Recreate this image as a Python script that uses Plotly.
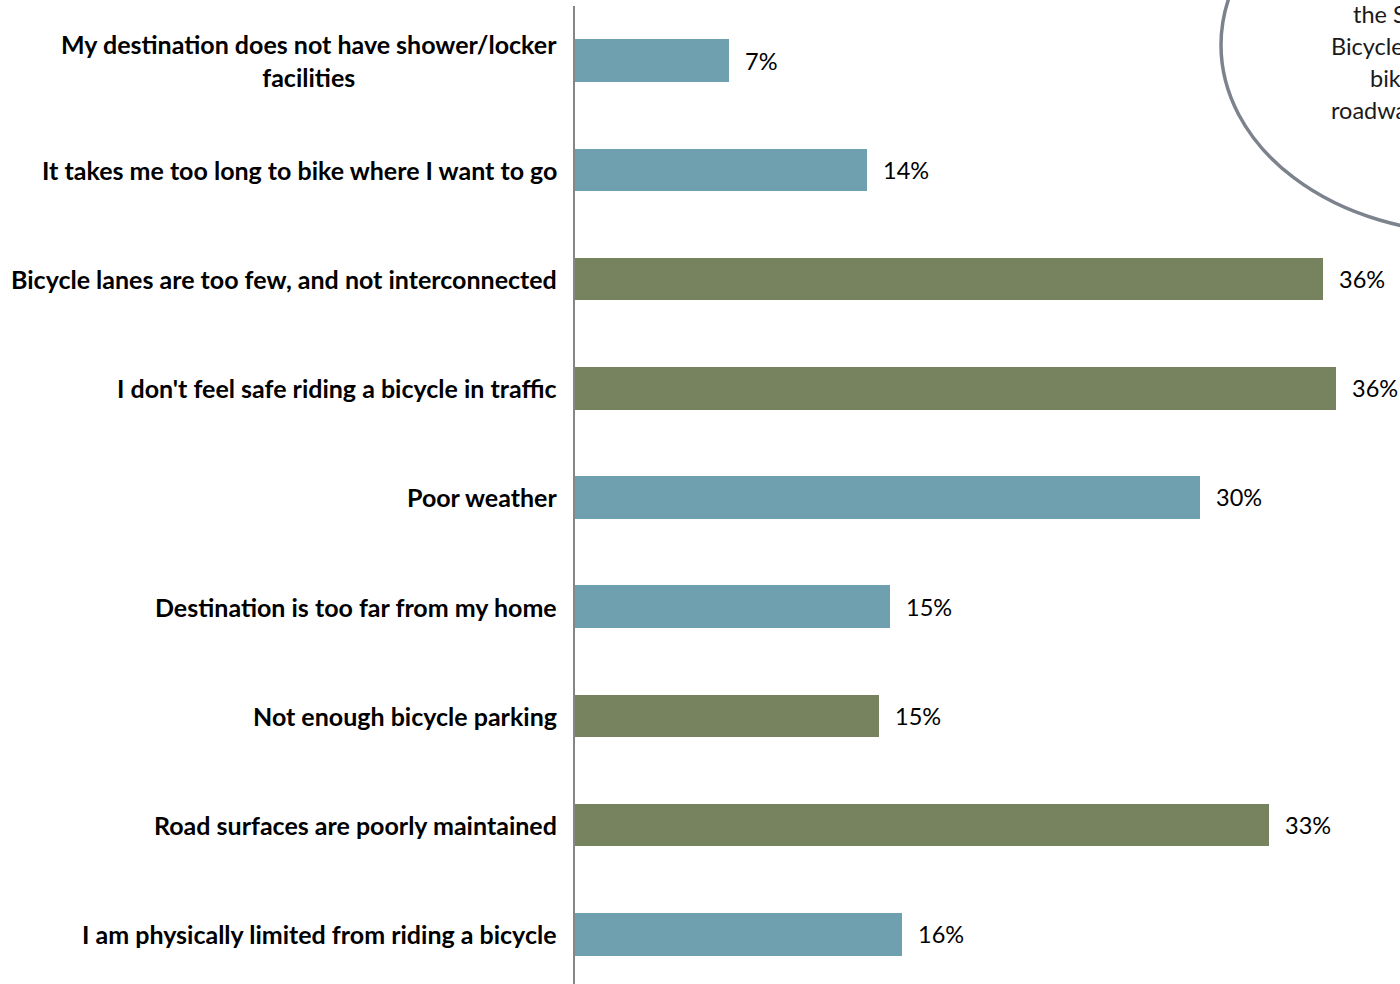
import plotly.graph_objects as go

# Survey responses: barriers to bicycling (share of respondents, %)
reasons = [
    "My destination does not have shower/locker<br>facilities",
    "It takes me too long to bike where I want to go",
    "Bicycle lanes are too few, and not interconnected",
    "I don't feel safe riding a bicycle in traffic",
    "Poor weather",
    "Destination is too far from my home",
    "Not enough bicycle parking",
    "Road surfaces are poorly maintained",
    "I am physically limited from riding a bicycle",
]
shares = [7.4, 14.0, 35.9, 36.5, 30.0, 15.1, 14.6, 33.3, 15.7]
groups = ["personal", "personal", "infra", "infra", "personal",
          "personal", "infra", "infra", "personal"]

group_colors = {"personal": "#6FA0B0", "infra": "#76835E"}
bar_colors = [group_colors[g] for g in groups]

FONT = "Lato"
W, H = 1400, 984
ML, MR, MT, MB = 575, 0, 6, 0


def px_to_paper(px, py):
    """Convert page pixel coordinates to plot-area paper coordinates."""
    return ((px - ML) / (W - ML - MR), 1 - (py - MT) / (H - MT - MB))


fig = go.Figure(
    go.Bar(
        x=shares,
        y=reasons,
        orientation="h",
        marker=dict(color=bar_colors, line=dict(width=0)),
        width=0.39,
        hoverinfo="skip",
    )
)

annotations = []
# category labels, right-aligned against the axis, centred when wrapped
for r in reasons:
    annotations.append(dict(
        x=0, xref="paper", y=r, yref="y",
        text=f"<b>{r}</b>", showarrow=False,
        xanchor="right", yanchor="middle", align="center",
        xshift=-16,
        font=dict(family=FONT, size=25, color="#000000"),
    ))
# value labels just past the end of each bar
for r, v in zip(reasons, shares):
    annotations.append(dict(
        x=v, xref="x", y=r, yref="y",
        text=f"{v:.0f}%", showarrow=False,
        xanchor="left", yanchor="middle", xshift=14,
        font=dict(family=FONT, size=23.5, color="#000000"),
    ))

# callout bubble text (runs past the right edge)
callout_lines = [("the Survey", 1351, 14), ("Bicycle lanes", 1329, 46),
                 ("bike", 1368, 78), ("roadways", 1329, 110)]
for txt, px, py in callout_lines:
    ax, ay = px_to_paper(px, py)
    annotations.append(dict(
        x=ax, xref="paper", y=ay, yref="paper",
        text=txt, showarrow=False, xanchor="left", yanchor="middle",
        font=dict(family=FONT, size=23.5, color="#1a1a1a"),
    ))

ex0, ey0 = px_to_paper(1221, 233)
ex1, ey1 = px_to_paper(1720, -143)
shapes = [dict(
    type="circle", xref="paper", yref="paper",
    x0=ex0, x1=ex1, y0=ey0, y1=ey1,
    line=dict(color="#7D838C", width=3.5),
    fillcolor="rgba(0,0,0,0)",
)]

fig.update_layout(
    width=W, height=H,
    margin=dict(l=ML, r=MR, t=MT, b=MB),
    paper_bgcolor="white", plot_bgcolor="white",
    showlegend=False,
    bargap=0,
    xaxis=dict(range=[0, 39.57], visible=False, fixedrange=True),
    yaxis=dict(
        type="category", categoryorder="array", categoryarray=reasons,
        range=[8.456, -0.5], showticklabels=False, ticks="",
        showgrid=False, zeroline=False,
        showline=True, linecolor="#868686", linewidth=2,
    ),
    annotations=annotations,
    shapes=shapes,
)

fig.write_html("out.html")
